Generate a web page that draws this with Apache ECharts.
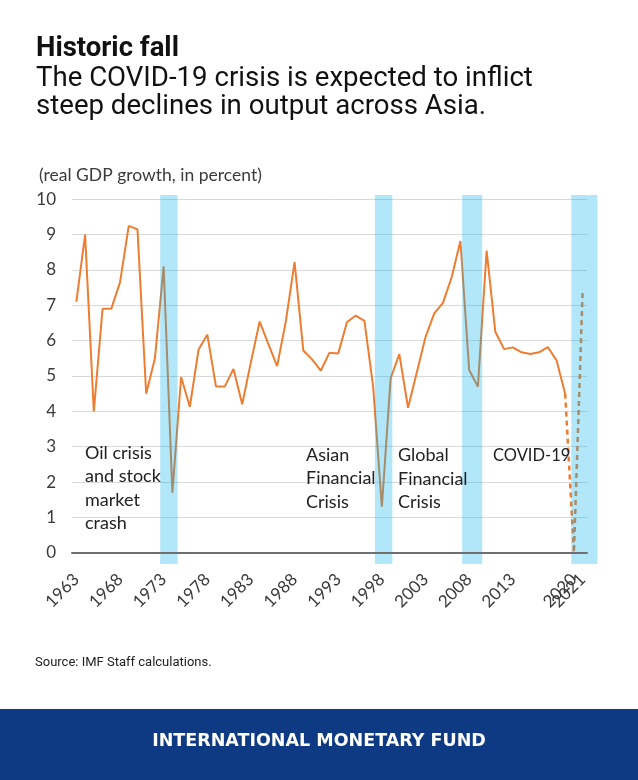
<!DOCTYPE html>
<html>
<head>
<meta charset="utf-8">
<script src="https://cdn.jsdelivr.net/npm/echarts@6/dist/echarts.min.js"></script>
<style>
html,body{margin:0;padding:0;background:#fff;}
#chart{width:638px;height:780px;}
</style>
</head>
<body>
<div id="chart"></div>
<script>
const years = ['1963','1964','1965','1966','1967','1968','1969','1970','1971','1972',
  '1973','1974','1975','1976','1977','1978','1979','1980','1981','1982',
  '1983','1984','1985','1986','1987','1988','1989','1990','1991','1992',
  '1993','1994','1995','1996','1997','1998','1999','2000','2001','2002',
  '2003','2004','2005','2006','2007','2008','2009','2010','2011','2012',
  '2013','2014','2015','2016','2017','2018','2019','2020','2021'];

// Actual real GDP growth (percent), 1963-2019
const gdpActual = [7.1, 9.0, 4.0, 6.9, 6.9, 7.65, 9.25, 9.15, 4.5, 5.5,
  8.1, 1.7, 4.97, 4.13, 5.75, 6.17, 4.7, 4.7, 5.2, 4.2,
  5.4, 6.54, 5.9, 5.28, 6.55, 8.22, 5.72, 5.47, 5.15, 5.66,
  5.64, 6.52, 6.71, 6.56, 4.7, 1.3, 4.93, 5.62, 4.1, 5.1,
  6.1, 6.77, 7.07, 7.8, 8.82, 5.17, 4.7, 8.55, 6.25, 5.76,
  5.81, 5.67, 5.62, 5.67, 5.82, 5.45, 4.5, null, null];

// Projection segment 2019-2021
const gdpForecast = [null, null, null, null, null, null, null, null, null, null,
  null, null, null, null, null, null, null, null, null, null,
  null, null, null, null, null, null, null, null, null, null,
  null, null, null, null, null, null, null, null, null, null,
  null, null, null, null, null, null, null, null, null, null,
  null, null, null, null, null, null, 4.5, 0.0, 7.4];

const xTickLabels = ['1963','1968','1973','1978','1983','1988','1993','1998','2003','2008','2013','2020'];
const xLastLabel = '2021';
const yTicks = [0, 1, 2, 3, 4, 5, 6, 7, 8, 9, 10];

// Crisis shading periods (in years, continuous)
const bandStart = [1972.6, 1997.2, 2007.2, 2019.7];
const bandEnd   = [1974.6, 1999.2, 2009.5, 2022.7];

const annotations = [
  'Oil crisis\nand stock\nmarket\ncrash',
  'Asian\nFinancial\nCrisis',
  'Global\nFinancial\nCrisis',
  'COVID-19'
];

const titleText = 'Historic fall';
const subtitleLines = ['The COVID-19 crisis is expected to inflict', 'steep declines in output across Asia.'];
const yAxisTitle = '(real GDP growth, in percent)';
const sourceText = 'Source: IMF Staff calculations.';
const footerText = 'INTERNATIONAL MONETARY FUND';

const chartFont = 'Lato';
const bands = bandStart.map((s, i) => [s, bandEnd[i]]);

const chart = echarts.init(document.getElementById('chart'), null, {renderer: 'canvas'});

const annPos = [[85, 441.5], [306, 443.5], [398, 444], [493, 444]];
const annSize = [18, 18, 18, 16.5];

const labelStyle = {
  rotate: 45,
  margin: 24,
  hideOverlap: false,
  fontFamily: chartFont,
  fontSize: 17,
  color: '#3a3a3a'
};

const option = {
  backgroundColor: '#ffffff',
  animation: false,
  grid: {left: 72, right: 51, top: 199.3, bottom: 227.3, containLabel: false},
  xAxis: [{
    type: 'category',
    data: years,
    boundaryGap: true,
    axisLine: {show: true, lineStyle: {color: '#6f6f6f', width: 2}},
    axisTick: {show: false},
    axisLabel: Object.assign({
      interval: (idx, val) => xTickLabels.indexOf(val) >= 0,
      showMinLabel: true,
      showMaxLabel: true
    }, labelStyle),
    splitLine: {show: false},
    z: 5
  }, {
    type: 'value',
    show: false,
    min: 1962.5,
    max: 2021.5,
    gridIndex: 0
  }, {
    type: 'category',
    data: years,
    boundaryGap: true,
    position: 'bottom',
    axisLine: {show: false},
    axisTick: {show: false},
    axisLabel: Object.assign({
      interval: (idx, val) => val === xLastLabel,
      showMinLabel: true,
      showMaxLabel: true
    }, labelStyle),
    splitLine: {show: false}
  }],
  yAxis: {
    type: 'value',
    min: yTicks[0],
    max: yTicks[yTicks.length - 1],
    interval: 1,
    axisLine: {show: false},
    axisTick: {show: false},
    axisLabel: {fontFamily: chartFont, fontSize: 17, color: '#3a3a3a', margin: 16},
    splitLine: {lineStyle: {color: '#d9d9d9', width: 1}}
  },
  series: [{
    type: 'line',
    name: 'Actual',
    data: gdpActual,
    xAxisIndex: 0,
    symbol: 'none',
    lineStyle: {color: '#ED7D31', width: 2},
    z: 2
  }, {
    type: 'line',
    name: 'Forecast',
    data: gdpForecast,
    xAxisIndex: 0,
    symbol: 'none',
    lineStyle: {color: '#ED7D31', width: 2.5, type: [5, 4]},
    z: 2
  }, {
    type: 'custom',
    name: 'Crises',
    xAxisIndex: 1,
    yAxisIndex: 0,
    data: bands,
    encode: {x: [0, 1]},
    clip: false,
    z: 3,
    silent: true,
    renderItem: function (params, api) {
      const p0 = api.coord([api.value(0), 10.12]);
      const p1 = api.coord([api.value(1), -0.32]);
      return {
        type: 'rect',
        shape: {x: p0[0], y: p0[1], width: p1[0] - p0[0], height: p1[1] - p0[1]},
        style: {fill: 'rgba(0,176,240,0.3)'}
      };
    }
  }],
  graphic: [
    {type: 'text', x: 36, y: 49.5, style: {text: titleText, font: 'bold 27.5px Roboto', fill: '#111', verticalAlign: 'middle'}},
    {type: 'text', x: 36, y: 79.5, style: {text: subtitleLines[0], font: '27.6px Roboto', fill: '#111', verticalAlign: 'middle'}},
    {type: 'text', x: 36, y: 107.5, style: {text: subtitleLines[1], font: '27.6px Roboto', fill: '#111', verticalAlign: 'middle'}},
    {type: 'text', x: 39, y: 175, style: {text: yAxisTitle, font: '17.5px ' + chartFont, fill: '#3a3a3a', verticalAlign: 'middle'}},
    ...annotations.map((t, i) => ({
      type: 'text', x: annPos[i][0], y: annPos[i][1], z: 10,
      style: {text: t, font: annSize[i] + 'px ' + chartFont, fill: '#222', lineHeight: 23.3, verticalAlign: 'top'}
    })),
    {type: 'text', x: 35, y: 663, style: {text: sourceText, font: '13px Roboto', fill: '#222', verticalAlign: 'middle'}},
    {type: 'rect', x: 0, y: 709, shape: {width: 638, height: 71}, style: {fill: '#0E3A84'}},
    {type: 'text', x: 319, y: 741.5, style: {text: footerText, font: 'bold 17.5px "DejaVu Sans"', fill: '#ffffff', align: 'center', verticalAlign: 'middle'}}
  ]
};
chart.setOption(option);
</script>
</body>
</html>
